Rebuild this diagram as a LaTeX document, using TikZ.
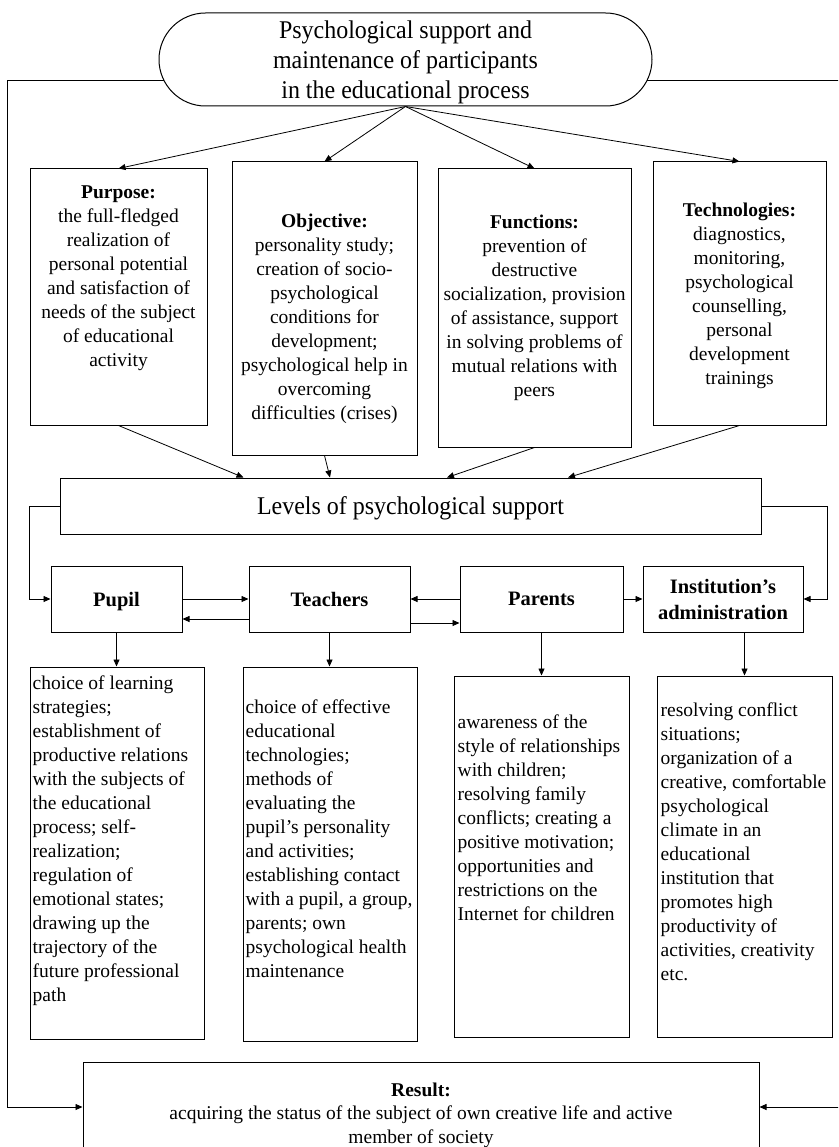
\documentclass[tikz,border=0pt]{standalone}
\usepackage{fontspec}
\setmainfont{Liberation Serif}
\newfontfamily\condfont[FakeStretch=0.94]{Liberation Serif}
\usetikzlibrary{shapes.misc,arrows.meta}
\tikzset{
    box/.style={draw, line width=1pt, inner sep=0pt},
    txt/.style={inner sep=0pt, font=\fontsize{19.5}{24}\selectfont},
    head/.style={box, align=center, font=\fontsize{20.5}{26}\selectfont\bfseries},
    big/.style={font=\condfont\fontsize{25.5}{30}\selectfont, text depth=0pt},
    arr/.style={line width=0.8pt, -{Triangle[length=7pt,width=6pt]}}
}
\begin{document}
\begin{tikzpicture}[x=1pt, y=-1pt]
                \useasboundingbox (0,0) rectangle (838,1147);
                \clip (0,0) rectangle (838,1147);
                \node[box, big, rounded rectangle, minimum width=493pt, minimum height=93pt, align=center] (top) at (405.5,59.5) {Psychological support and\\maintenance of participants\\in the educational process};
                \node[box, minimum width=177pt, minimum height=256pt] (purpose) at (118.5,297) {};
                \node[box, minimum width=185pt, minimum height=293pt] (objective) at (324.5,308.5) {};
                \node[box, minimum width=193pt, minimum height=278pt] (functions) at (534.5,308) {};
                \node[box, minimum width=173pt, minimum height=263pt] (tech) at (739.5,293.5) {};
                \node[txt, align=center, anchor=north] (purpose-t) at ([yshift=-17pt]purpose.north) {\textbf{Purpose:}\\the full-fledged\\realization of\\personal potential\\and satisfaction of\\needs of the subject\\of educational\\activity};
                \node[txt, align=center, anchor=north] (objective-t) at ([yshift=-52pt]objective.north) {\textbf{Objective:}\\personality study;\\creation of socio-\\psychological\\conditions for\\development;\\psychological help in\\overcoming\\difficulties (crises)};
                \node[txt, align=center, anchor=north] (functions-t) at ([yshift=-46pt]functions.north) {\textbf{Functions:}\\prevention of\\destructive\\socialization, provision\\of assistance, support\\in solving problems of\\mutual relations with\\peers};
                \node[txt, align=center, anchor=north] (tech-t) at ([yshift=-41pt]tech.north) {\textbf{Technologies:}\\diagnostics,\\monitoring,\\psychological\\counselling,\\personal\\development\\trainings};
                \node[box, big, minimum width=701pt, minimum height=56pt] (levels) at (410.5,506) {Levels of psychological support};
                \node[head, minimum width=131pt, minimum height=66pt, text depth=0pt] (pupil) at (116.5,599) {Pupil};
                \node[head, minimum width=161pt, minimum height=66pt] (teachers) at (329.5,599) {Teachers};
                \node[head, minimum width=163pt, minimum height=66pt] (parents) at (541.5,599) {Parents};
                \node[head, minimum width=160pt, minimum height=66pt] (admin) at (723,599) {Institution’s\\administration};
                \node[box, minimum width=174pt, minimum height=372pt] (pupilbox) at (117,853) {};
                \node[box, minimum width=174pt, minimum height=374pt] (teachbox) at (330,854) {};
                \node[box, minimum width=175pt, minimum height=361pt] (parentbox) at (541.5,856.5) {};
                \node[box, minimum width=175pt, minimum height=361pt] (adminbox) at (744.5,856.5) {};
                \node[txt, align=left, anchor=north west] (pupilbox-t) at ([xshift=3pt,yshift=-9pt]pupilbox.north west) {choice of learning\\strategies;\\establishment of\\productive relations\\with the subjects of\\the educational\\process; self-\\realization;\\regulation of\\emotional states;\\drawing up the\\trajectory of the\\future professional\\path};
                \node[txt, align=left, anchor=north west] (teachbox-t) at ([xshift=3pt,yshift=-33pt]teachbox.north west) {choice of effective\\educational\\technologies;\\methods of\\evaluating the\\pupil’s personality\\and activities;\\establishing contact\\with a pupil, a group,\\parents; own\\psychological health\\maintenance};
                \node[txt, align=left, anchor=north west] (parentbox-t) at ([xshift=4pt,yshift=-39pt]parentbox.north west) {awareness of the\\style of relationships\\with children;\\resolving family\\conflicts; creating a\\positive motivation;\\opportunities and\\restrictions on the\\Internet for children};
                \node[txt, align=left, anchor=north west] (adminbox-t) at ([xshift=4pt,yshift=-27pt]adminbox.north west) {resolving conflict\\situations;\\organization of a\\creative, comfortable\\psychological\\climate in an\\educational\\institution that\\promotes high\\productivity of\\activities, creativity\\etc.};
                \node[box, minimum width=676pt, minimum height=90pt] (result) at (421,1107) {};
                \node[txt, align=center, anchor=north, font=\fontsize{19.5}{23.5}\selectfont] (result-t) at ([yshift=-21pt]result.north) {\textbf{Result:}\\acquiring the status of the subject of own creative life and active\\member of society};
                \draw[arr] (top.south) -- (purpose.north);
                \draw[arr] (top.south) -- (objective.north);
                \draw[arr] (top.south) -- (functions.north);
                \draw[arr] (top.south) -- (tech.north);
                \draw[arr] (purpose.south) -- ([xshift=-167pt]levels.north);
                \draw[arr] (objective.south) -- ([xshift=-80.5pt]levels.north);
                \draw[arr] (functions.south) -- ([xshift=36.5pt]levels.north);
                \draw[arr] (tech.south) -- ([xshift=157.5pt]levels.north);
                \draw[arr] (levels.west) -- ++(-30,0) |- (pupil.west);
                \draw[arr] (levels.east) -- ++(66,0) |- (admin.east);
                \draw[arr] (pupil.east) -- (teachers.west);
                \draw[arr] ([yshift=-20pt]teachers.west) -- ([yshift=-20pt]pupil.east);
                \draw[arr] (parents.west) -- (teachers.east);
                \draw[arr] ([yshift=-24pt]teachers.east) -- ([yshift=-24pt]parents.west);
                \draw[arr] (parents.east) -- (admin.west);
                \draw[arr] (pupil.south) -- (pupil.south |- pupilbox.north);
                \draw[arr] (teachers.south) -- (teachers.south |- teachbox.north);
                \draw[arr] (parents.south) -- (parents.south |- parentbox.north);
                \draw[arr] (admin.south -| adminbox.north) -- (adminbox.north);
                \draw[arr] (top.185) -| ([xshift=-75pt]result.west) -- (result.west);
                \draw[arr] (top.-5.3) -| ([xshift=90pt]result.east) -- (result.east);
            \end{tikzpicture}
\end{document}
